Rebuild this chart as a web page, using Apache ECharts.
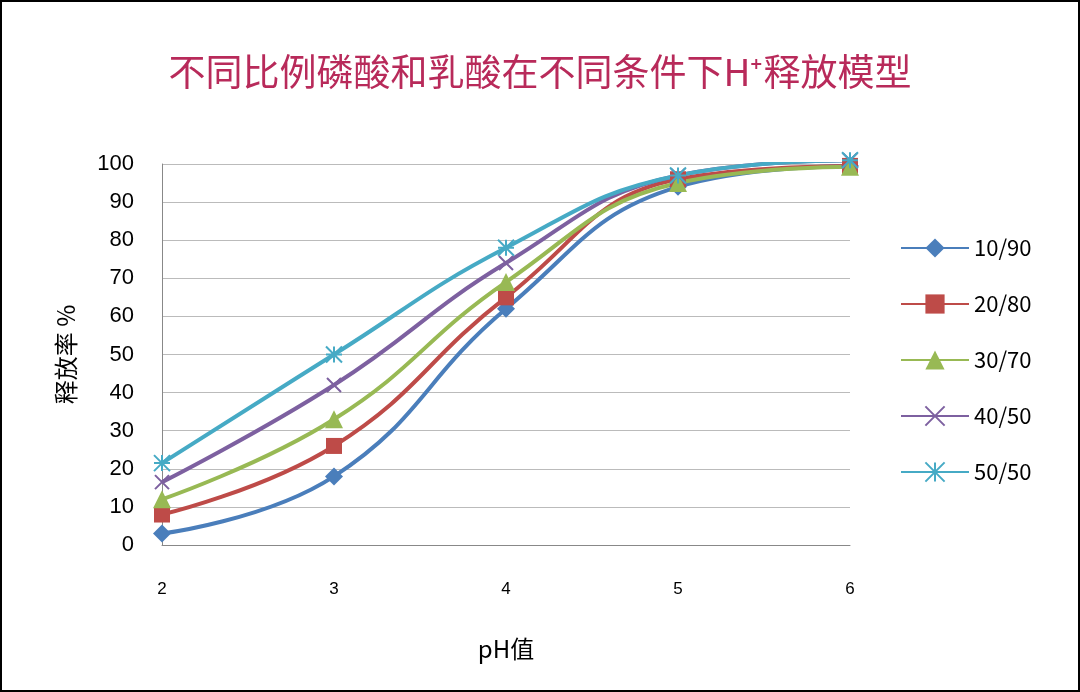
<!DOCTYPE html><html><head><meta charset="utf-8"><script src="https://cdn.jsdelivr.net/npm/echarts@6/dist/echarts.min.js"></script>
<style>html,body{margin:0;padding:0;background:#fff}#c{width:1080px;height:692px;box-sizing:border-box;border:2px solid #000}</style></head><body><div id="c"></div><script>
const xs=[2,3,4,5,6];
const names=['10/90','20/80','30/70','40/50','50/50'];
const s1=[3,18,62,94,99.5];
const s2=[8,26,65,96,99.5];
const s3=[12,33,69,95,99.3];
const s4=[16.5,42,74,97,101];
const s5=[21.5,50,78,97,101];
const colors=['#4a7ebb','#be4b48','#98b954','#7d60a0','#46aac5'];
const syms=['diamond','rect','triangle','path://M0,0L10,10M10,0L0,10','path://M0,0L10,10M10,0L0,10M5,0L5,10M0,5L10,5'];
const sizes=[18,16,18,14,16];
const data=[s1,s2,s3,s4,s5];
const chart=echarts.init(document.getElementById('c'));
chart.setOption({
title:{text:'不同比例磷酸和乳酸在不同条件下H⁺释放模型',left:'center',top:46,textStyle:{color:'#b82a5a',fontSize:37,fontWeight:'normal',fontFamily:'Noto Sans CJK SC'}},
grid:{left:160,right:228,top:162,bottom:145},
legend:{orient:'vertical',left:893,top:230,itemGap:34,itemWidth:68,itemHeight:24,textStyle:{fontSize:22,color:'#000',fontFamily:'Noto Sans CJK SC'},data:names},
xAxis:{type:'value',min:2,max:6,interval:1,name:'pH值',nameLocation:'middle',nameGap:92,nameTextStyle:{fontSize:24,color:'#000',fontFamily:'Noto Sans CJK SC'},axisLine:{lineStyle:{color:'#888'}},axisTick:{show:false},splitLine:{show:false},axisLabel:{color:'#000',fontSize:17,margin:36}},
yAxis:{type:'value',min:0,max:100,interval:10,name:'释放率 %',nameLocation:'middle',nameGap:84,nameRotate:90,nameTextStyle:{fontSize:24,color:'#000',fontFamily:'Noto Sans CJK SC'},axisLine:{show:true,lineStyle:{color:'#888'}},axisTick:{show:false},splitLine:{lineStyle:{color:'#bbb'}},axisLabel:{color:'#000',fontSize:22,margin:28}},
series:names.map((n,i)=>({name:n,type:'line',smooth:0.45,clip:false,data:xs.map((x,j)=>[x,data[i][j]]),symbol:syms[i],symbolSize:sizes[i],showSymbol:true,lineStyle:{width:4,color:colors[i]},itemStyle:{color:colors[i],borderColor:colors[i],borderWidth:i>=3?2:0}}))
});
</script></body></html>
